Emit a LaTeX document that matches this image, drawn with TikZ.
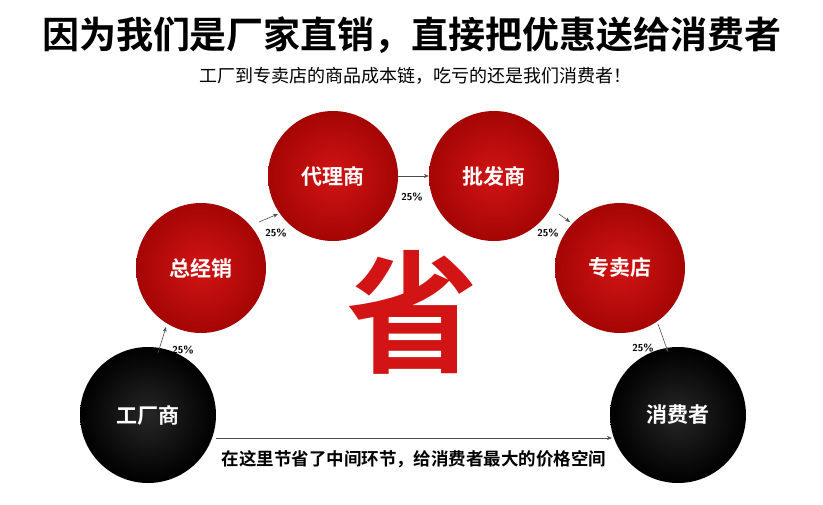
\documentclass[tikz,border=0pt]{standalone}
\usepackage{fontspec}
\newfontfamily\cjk{Noto Sans CJK SC}
\newfontfamily\cjkb{Noto Sans CJK SC Bold}
\usetikzlibrary{arrows.meta}
\definecolor{myred}{RGB}{210,20,20}
\definecolor{mydark}{RGB}{165,5,5}
\tikzset{
 redc/.style={circle,minimum size=130pt,inner sep=0pt,inner color=myred,outer color=mydark,text=white,font=\cjkb\fontsize{21}{21}\selectfont},
 blkc/.style={circle,minimum size=136pt,inner sep=0pt,inner color=black!85,outer color=black,text=white,font=\cjkb\fontsize{21}{21}\selectfont},
 arr/.style={-{Stealth[length=5pt,width=4pt]},black!70,line width=0.6pt},
 pct/.style={font=\sffamily\bfseries\fontsize{10}{10}\selectfont,inner sep=1pt}
}
\begin{document}
\begin{tikzpicture}[x=1pt,y=-1pt]
\useasboundingbox[fill=white] (0,0) rectangle (823,504);
\node (title) at (412,35) {\cjkb\fontsize{37}{37}\selectfont 因为我们是厂家直销，直接把优惠送给消费者};
\node (sub) at (415,76) {\cjk\fontsize{18}{18}\selectfont 工厂到专卖店的商品成本链，吃亏的还是我们消费者！};
\node[blkc] (f) at (148,415) {工厂商};
\node[redc] (z) at (201,268) {总经销};
\node[redc] (d) at (333,176) {代理商};
\node[redc] (p) at (494,176) {批发商};
\node[redc] (s) at (620,268) {专卖店};
\node[blkc] (c) at (678,415) {消费者};
\node[text=myred] (sheng) at (412,312) {\cjkb\fontsize{132}{132}\selectfont 省};
\coordinate (b1) at (158,353); \coordinate (e1) at (166,327);
\draw[arr] (b1) -- (e1);
\node[pct] (p1) at (183,350) {25\%};
\coordinate (b2) at (259,222); \coordinate (e2) at (278,214);
\draw[arr] (b2) -- (e2);
\node[pct] (p2) at (276,233) {25\%};
\draw[arr] (d.east) -- (p.west);
\node[pct] (p3) at (412,197) {25\%};
\coordinate (b4) at (559,214); \coordinate (e4) at (570,222);
\draw[arr] (b4) -- (e4);
\node[pct] (p4) at (548,233) {25\%};
\coordinate (b5) at (658,324); \coordinate (e5) at (668,352);
\draw[arr] (b5) -- (e5);
\node[pct] (p5) at (643,348) {25\%};
\coordinate (b6) at (216,438); \coordinate (e6) at (612,438);
\draw[arr] (b6) -- (e6);
\node (bt) at (414,459) {\cjkb\fontsize{17.5}{17.5}\selectfont 在这里节省了中间环节，给消费者最大的价格空间};
\end{tikzpicture}
\end{document}
